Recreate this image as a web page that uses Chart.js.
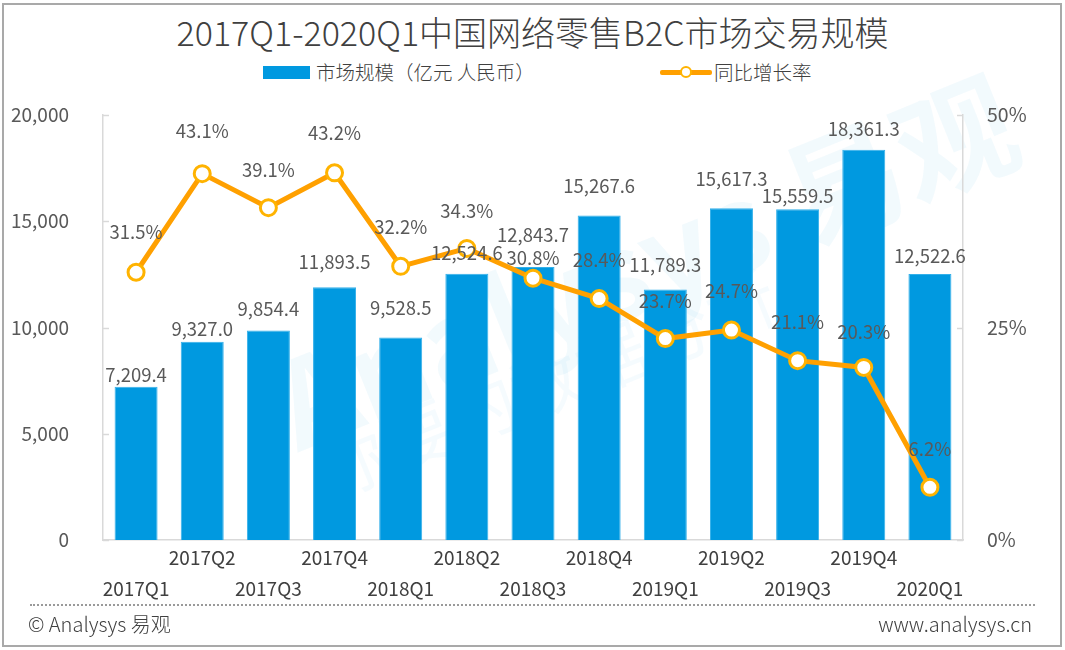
<!DOCTYPE html>
<html>
<head>
<meta charset="utf-8">
<script src="https://cdn.jsdelivr.net/npm/chart.js@4/dist/chart.umd.min.js"></script>
<style>
  html, body { margin: 0; padding: 0; background: #fff; }
  body { font-family: "Noto Sans CJK SC", "Noto Sans", sans-serif; color: #404040; }
  #wrap { position: relative; width: 1065px; height: 650px; overflow: hidden; }
  #frame { position: absolute; left: 2px; top: 3px; width: 1056px; height: 640px; border: 2px solid #a9a9a9; }
  #title { position: absolute; left: 0; width: 1065px; top: 8px; text-align: center; font-size: 34px; font-weight: 300; line-height: 48px; color: #404040; }
  .legend { position: absolute; top: 59px; font-size: 19.5px; font-weight: 300; line-height: 26px; color: #404040; white-space: nowrap; }
  .swatch { position: absolute; left: 263px; top: 66px; width: 47px; height: 13px; background: #0099e0; }
  .lline { position: absolute; left: 660px; top: 70px; width: 52px; height: 5px; background: #ffa000; border-radius: 2px; }
  .ldot { position: absolute; left: 680px; top: 66px; width: 8px; height: 8px; border: 2px solid #ffb300; border-radius: 50%; background: #fff; }
  #mark { position: absolute; left: 250px; top: 170px; font-size: 120px; font-weight: bold; color: rgba(0,153,224,0.05); transform: rotate(-22deg); white-space: nowrap; }
  #mark2 { position: absolute; left: 300px; top: 330px; font-size: 70px; color: rgba(0,153,224,0.04); transform: rotate(-22deg); white-space: nowrap; }
  #dots { position: absolute; left: 30px; top: 604px; width: 1005px; border-top: 2px dotted #9a9a9a; }
  .foot { position: absolute; top: 611px; font-size: 20px; font-weight: 300; line-height: 26px; color: #404040; }
  canvas { position: absolute; left: 0; top: 0; }
</style>
</head>
<body>
<div id="wrap">
  <div id="mark">Analysys 易观</div>
  <div id="mark2">你要的数据分析</div>
  <div id="frame"></div>
  <div id="title">2017Q1-2020Q1中国网络零售B2C市场交易规模</div>
  <div class="swatch"></div>
  <div class="legend" style="left:316px">市场规模（亿元 人民币）</div>
  <div class="lline"></div>
  <div class="ldot"></div>
  <div class="legend" style="left:714px">同比增长率</div>
  <canvas id="chart" width="1065" height="650"></canvas>
  <div id="dots"></div>
  <div class="foot" style="left:28px">© Analysys 易观</div>
  <div class="foot" style="right:33px">www.analysys.cn</div>
</div>
<script>
const quarters = ['2017Q1', '2017Q2', '2017Q3', '2017Q4', '2018Q1', '2018Q2', '2018Q3',
    '2018Q4', '2019Q1', '2019Q2', '2019Q3', '2019Q4', '2020Q1'];
const marketSize = [7209.4, 9327.0, 9854.4, 11893.5, 9528.5, 12524.6, 12843.7,
    15267.6, 11789.3, 15617.3, 15559.5, 18361.3, 12522.6];
const growthRate = [31.5, 43.1, 39.1, 43.2, 32.2, 34.3, 30.8, 28.4, 23.7, 24.7, 21.1, 20.3, 6.2];
const sizeTicks = [0, 5000, 10000, 15000, 20000];
const rateTicks = [0, 25, 50];

// label lift above the mark, px (labels were nudged by hand in the original)
const sizeLabelLift = [12, 13, 22, 25, 30, 21, 32, 30, 25, 29, 13, 21, 18];
const rateLabelLift = [40, 43, 38, 40, 39, 37, 20, 39, 38, 39, 39, 35, 38];

const FONT = '"Noto Sans CJK SC", "Noto Sans", sans-serif';
const fmtSize = v => v.toLocaleString('en-US', { minimumFractionDigits: 1, maximumFractionDigits: 1 });

// small tick marks pointing into the plot on both value axes
const innerTicks = {
    id: 'innerTicks',
    afterDraw(chart) {
        const ctx = chart.ctx;
        ctx.save();
        ctx.strokeStyle = '#d9d9d9';
        ctx.lineWidth = 1.5;
        sizeTicks.forEach(v => {
            const y = Math.round(chart.scales.y.getPixelForValue(v)) + 0.5;
            ctx.beginPath();
            ctx.moveTo(chart.chartArea.left, y);
            ctx.lineTo(chart.chartArea.left + 6, y);
            ctx.stroke();
        });
        rateTicks.forEach(v => {
            const y = Math.round(chart.scales.y1.getPixelForValue(v)) + 0.5;
            ctx.beginPath();
            ctx.moveTo(chart.chartArea.right, y);
            ctx.lineTo(chart.chartArea.right - 6, y);
            ctx.stroke();
        });
        ctx.restore();
    }
};

const valueLabels = {
    id: 'valueLabels',
    afterDatasetsDraw(chart) {
        const ctx = chart.ctx;
        ctx.save();
        ctx.font = '18.5px ' + FONT;
        ctx.fillStyle = '#595959';
        ctx.textAlign = 'center';
        ctx.textBaseline = 'middle';
        chart.getDatasetMeta(0).data.forEach((bar, i) => {
            ctx.fillText(fmtSize(marketSize[i]), bar.x, bar.y - sizeLabelLift[i]);
        });
        chart.getDatasetMeta(1).data.forEach((pt, i) => {
            ctx.fillText(growthRate[i].toFixed(1) + '%', pt.x, pt.y - rateLabelLift[i]);
        });
        ctx.restore();
    }
};

new Chart(document.getElementById('chart'), {
    data: {
        labels: quarters,
        datasets: [
            {
                type: 'bar',
                label: '市场规模（亿元 人民币）',
                data: marketSize,
                yAxisID: 'y',
                backgroundColor: '#0099e0',
                borderColor: '#33b0ea',
                borderWidth: 1,
                barPercentage: 0.65,
                categoryPercentage: 1,
                order: 1
            },
            {
                type: 'line',
                label: '同比增长率',
                data: growthRate,
                yAxisID: 'y1',
                borderColor: '#ffa000',
                borderWidth: 5,
                pointRadius: 8,
                pointBorderWidth: 3,
                pointBackgroundColor: '#ffffff',
                pointBorderColor: '#ffb300',
                tension: 0,
                order: 0
            }
        ]
    },
    options: {
        responsive: false,
        animation: false,
        events: [],
        layout: { padding: { top: 115, left: 0, right: 0, bottom: 0 } },
        plugins: { legend: { display: false }, title: { display: false }, tooltip: { enabled: false } },
        scales: {
            x: {
                grid: { display: false },
                border: { display: true, color: '#d9d9d9', width: 1.5 },
                ticks: {
                    color: '#404040',
                    padding: -6,
                    maxRotation: 0,
                    autoSkip: false,
                    font: { family: FONT, size: 19, lineHeight: 1.63 },
                    callback: (v, i) => i % 2 === 0 ? ['', quarters[i]] : [quarters[i]]
                },
                afterFit: s => { s.height = 110; }
            },
            y: {
                position: 'left',
                min: 0,
                max: 20000,
                afterBuildTicks: s => { s.ticks = sizeTicks.map(v => ({ value: v })); },
                grid: { display: false },
                border: { display: true, color: '#d9d9d9', width: 1.5 },
                ticks: {
                    color: '#595959',
                    padding: 26,
                    font: { family: FONT, size: 19 },
                    callback: v => v.toLocaleString('en-US')
                },
                afterFit: s => { s.width = 103; }
            },
            y1: {
                position: 'right',
                min: 0,
                max: 50,
                afterBuildTicks: s => { s.ticks = rateTicks.map(v => ({ value: v })); },
                grid: { display: false },
                border: { display: true, color: '#d9d9d9', width: 1.5 },
                ticks: {
                    color: '#595959',
                    padding: 16,
                    font: { family: FONT, size: 19.5 },
                    callback: v => v + '%'
                },
                afterFit: s => { s.width = 102; }
            }
        }
    },
    plugins: [innerTicks, valueLabels]
});
</script>
</body>
</html>
